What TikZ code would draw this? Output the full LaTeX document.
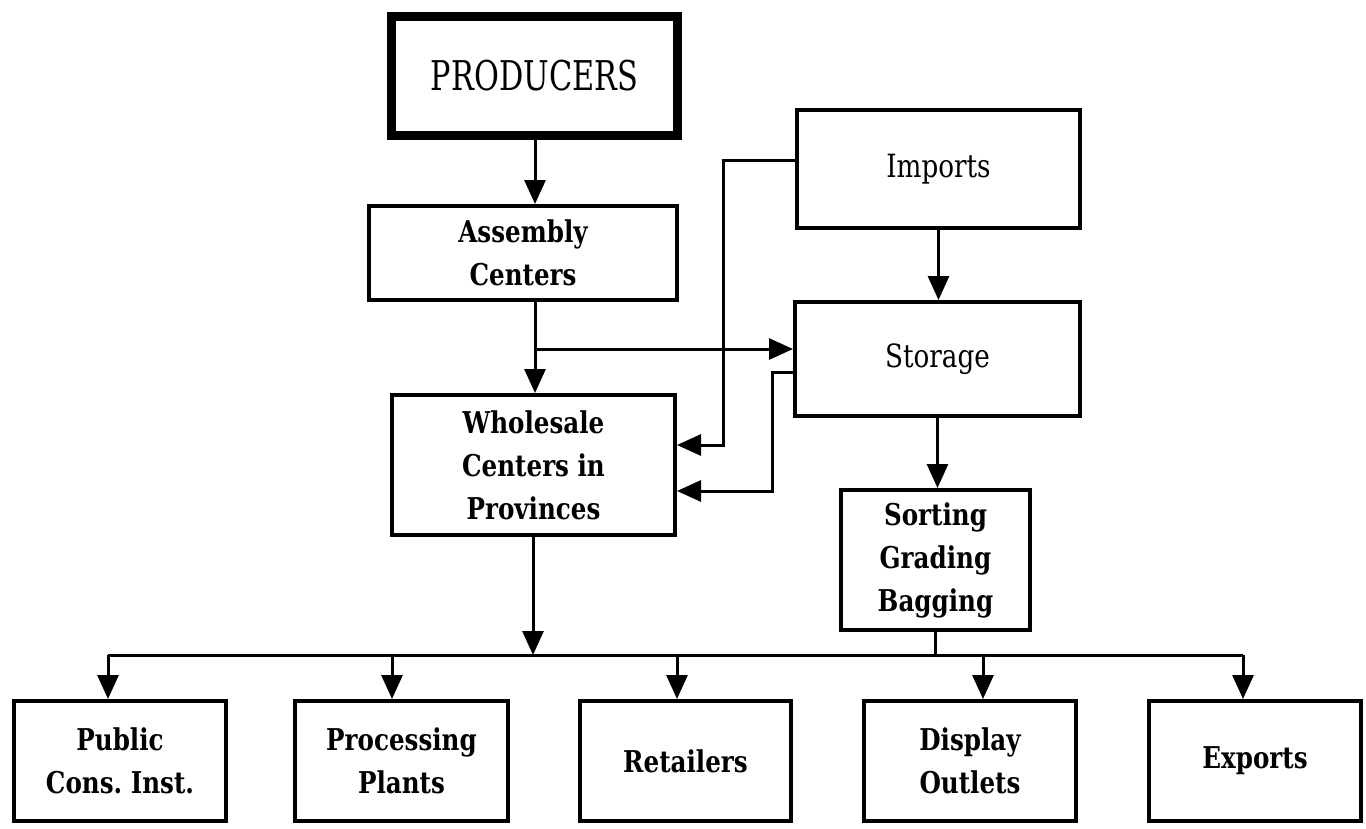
\documentclass[tikz,border=0pt]{standalone}
\usepackage{fontspec}
\setmainfont{DejaVu Serif}[FakeStretch=0.82]
\newfontfamily\headfont{DejaVu Serif}[FakeStretch=0.74]
\usetikzlibrary{arrows.meta}
\frenchspacing

\begin{document}
\begin{tikzpicture}[x=1pt,y=-1pt,
  box/.style={draw, rectangle, line width=4pt, inner sep=0pt, align=center,
    font=\fontsize{30}{43}\selectfont\bfseries},
  lightbox/.style={box, font=\fontsize{32}{43}\selectfont},
  headbox/.style={draw, rectangle, line width=9pt, inner sep=0pt,
    font=\headfont\fontsize{41}{48}\selectfont},
  wire/.style={line width=3pt},
  arr/.style={wire, -{Triangle[length=24pt,width=21pt]}}]

\useasboundingbox (0,0) rectangle (1366,828);
\fill[white] (0,0) rectangle (1366,828);

% upper part of the chain
\node[headbox, minimum width=286pt, minimum height=119pt] (prod) at (534.5,76) {PRODUCERS};
\node[box, minimum width=308pt, minimum height=94pt] (asm) at (523,253) {Assembly\\Centers};
\node[lightbox, minimum width=283pt, minimum height=118pt] (imp) at (938.5,169) {Imports};
\node[lightbox, minimum width=285pt, minimum height=114pt] (sto) at (937.5,359) {Storage};
\node[box, minimum width=283pt, minimum height=140pt] (whl) at (533.5,465) {Wholesale\\Centers in\\Provinces};
\node[box, minimum width=189pt, minimum height=140pt] (srt) at (935.5,560) {Sorting\\Grading\\Bagging};

% final outlets
\node[box, minimum width=212pt, minimum height=120pt] (pub) at (120,761) {Public\\Cons. Inst.};
\node[box, minimum width=213pt, minimum height=120pt] (proc) at (401.5,761) {Processing\\Plants};
\node[box, minimum width=211pt, minimum height=120pt] (ret) at (685.5,761) {Retailers};
\node[box, minimum width=212pt, minimum height=120pt] (disp) at (970,761) {Display\\Outlets};
\node[box, minimum width=212pt, minimum height=120pt] (exp) at (1255,761) {Exports};

% routing points
\coordinate (a1) at (535,349);
\coordinate (i1) at (723,160);
\coordinate (i2) at (723,445);
\coordinate (s1) at (772,372);
\coordinate (s2) at (772,491);
\coordinate (bw) at (533,655);
\coordinate (bs) at (935,655);
\coordinate (d1) at (108,655);
\coordinate (d2) at (392,655);
\coordinate (d3) at (677,655);
\coordinate (d4) at (983,655);
\coordinate (d5) at (1243,655);

% flows
\draw[arr] (prod.south -| a1) -- (asm.north -| a1);
\draw[arr] (asm.south -| a1) -- (whl.north -| a1);
\draw[arr] (a1) -- (sto.west |- a1);
\draw[arr] (imp.west |- i1) -- (i1) -- (i2) -- (whl.east |- i2);
\draw[arr] (sto.west |- s1) -- (s1) -- (s2) -- (whl.east |- s2);
\draw[arr] (imp.south) -- (imp.south |- sto.north);
\draw[arr] (sto.south) -- (sto.south |- srt.north);

% distribution bus
\draw[arr] (whl.south -| bw) -- (bw);
\draw[wire] (srt.south -| bs) -- (bs);
\draw[wire] (d1) -- (d5);
\draw[arr] (d1) -- (pub.north -| d1);
\draw[arr] (d2) -- (proc.north -| d2);
\draw[arr] (d3) -- (ret.north -| d3);
\draw[arr] (d4) -- (disp.north -| d4);
\draw[arr] (d5) -- (exp.north -| d5);
\end{tikzpicture}
\end{document}
